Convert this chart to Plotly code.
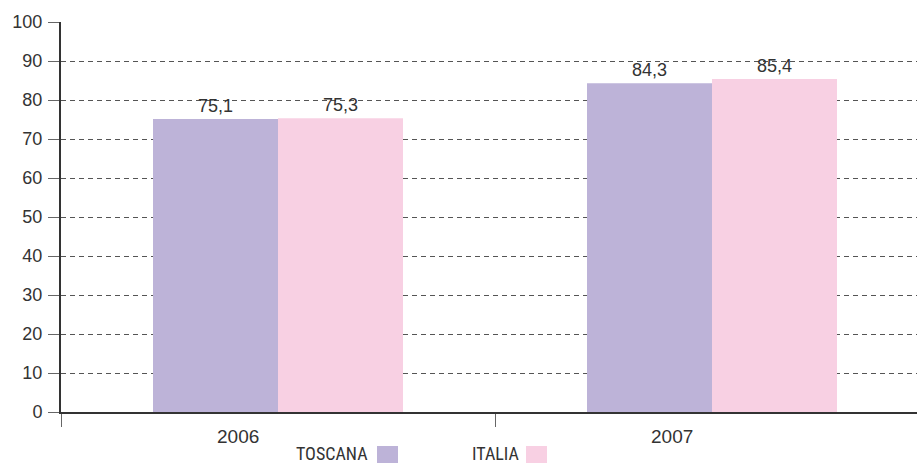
import plotly.graph_objects as go

categories = ["2006", "2007"]
toscana = [75.1, 84.3]
italia = [75.3, 85.4]
series_names = ["TOSCANA", "ITALIA"]
colors = ["#BDB3D8", "#F8D0E3"]
y_ticks = [0, 10, 20, 30, 40, 50, 60, 70, 80, 90, 100]

W, H = 917, 464
L, R, T, B = 61, 0, 22, 52
pw = W - L - R
ph = H - T - B
cat_px = 434.0  # pixel width of one category

fig = go.Figure()
for name, vals, col in zip(series_names, [toscana, italia], colors):
    fig.add_trace(go.Bar(
        x=categories, y=vals, name=name, marker=dict(color=col, line=dict(width=0)),
        text=[f"{v:.1f}".replace(".", ",") for v in vals], textposition="outside",
        textfont=dict(size=18, color="#333333", family="Liberation Sans, Arial, sans-serif"),
        cliponaxis=False, showlegend=False,
    ))

txt = dict(family="Liberation Sans, Arial, sans-serif", color="#333333")
annotations = []
for i, c in enumerate(categories):
    annotations.append(dict(x=i, y=0, xref="x", yref="paper", yanchor="middle", xanchor="center",
                            yshift=-24, xshift=-40, text=c, showarrow=False,
                            font=dict(size=19, **txt)))

def px_x(p):
    return (p - L) / pw

def px_y(p):
    return (H - B - p) / ph

shapes = []
legend_items = [(370, 377, 398), (522, 526, 547)]
narrow = dict(family="Liberation Sans Narrow, Arial Narrow, Roboto Condensed, sans-serif", color="#333333")
for name, col, (tx, s0, s1) in zip(series_names, colors, legend_items):
    annotations.append(dict(x=px_x(tx), y=px_y(453), xref="paper", yref="paper", xanchor="right",
                            yanchor="middle", text=name, showarrow=False,
                            font=dict(size=18, **narrow)))
    shapes.append(dict(type="rect", xref="paper", yref="paper", x0=px_x(s0), x1=px_x(s1),
                       y0=px_y(463), y1=px_y(446), fillcolor=col, line=dict(width=0)))

fig.update_layout(
    width=W, height=H, margin=dict(l=L, r=R, t=T, b=B),
    paper_bgcolor="white", plot_bgcolor="white",
    barmode="group", bargap=0.424, bargroupgap=0,
    separators=",.",
    annotations=annotations, shapes=shapes,
    xaxis=dict(type="category", range=[-0.5, -0.5 + pw / cat_px], showticklabels=False,
               ticks="outside", tickson="boundaries", ticklen=13, tickcolor="#666666", tickwidth=1,
               showline=True, linecolor="#333333", linewidth=2, showgrid=False, zeroline=False),
    yaxis=dict(range=[0, 100], tickvals=y_ticks, ticks="outside", ticklen=11, tickcolor="#666666",
               tickwidth=1, showline=True, linecolor="#333333", linewidth=2,
               showgrid=True, gridcolor="#555555", gridwidth=1, griddash="5px,4px",
               zeroline=False, tickfont=dict(size=18, **txt), ticklabelstandoff=2),
)

fig.write_html("out.html", config={"displayModeBar": False},
               post_script="document.body.style.margin='0';document.body.style.overflow='hidden';")
